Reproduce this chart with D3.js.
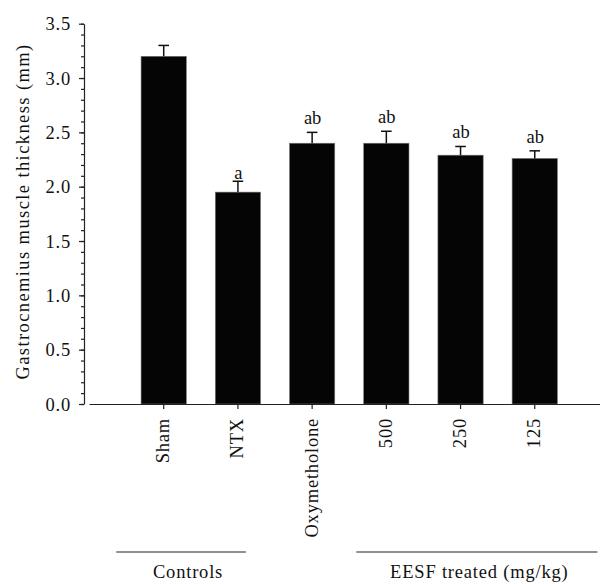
<!DOCTYPE html>
<html>
<head>
<meta charset="utf-8">
<script src="https://cdn.jsdelivr.net/npm/d3@7"></script>
<style>
  body { margin: 0; background: #fff; }
  text { font-family: "Liberation Serif", "Times New Roman", serif; fill: #111; letter-spacing: 0.8px; }
</style>
</head>
<body>
<script>
// groups and measured values (mm)
const groups = ['Sham', 'NTX', 'Oxymetholone', '500', '250', '125'];
const means = [3.20, 1.95, 2.40, 2.40, 2.29, 2.26];
const errors = [0.10, 0.10, 0.10, 0.11, 0.08, 0.07];
const letters = ['', 'a', 'ab', 'ab', 'ab', 'ab'];
const yTicks = [0.0, 0.5, 1.0, 1.5, 2.0, 2.5, 3.0, 3.5];
const bracketLabels = ['Controls', 'EESF treated (mg/kg)'];
const bracketMembers = [['Sham', 'NTX'], ['500', '250', '125']];

const fs = '18.5px';

const svg = d3.select('body').append('svg')
    .attr('width', 600)
    .attr('height', 584);

const x = d3.scaleBand()
    .domain(groups)
    .range([89, 600])
    .paddingInner(0.39)
    .paddingOuter(0.638)
    .align(0.55);

const y = d3.scaleLinear()
    .domain([0, 3.5])
    .range([404, 23.7]);

// bars
svg.selectAll('rect.bar')
    .data(groups)
    .enter()
    .append('rect')
    .attr('class', 'bar')
    .attr('x', d => x(d))
    .attr('width', x.bandwidth())
    .attr('y', (d, i) => y(means[i]))
    .attr('height', (d, i) => y(0) - y(means[i]))
    .attr('fill', '#050505')
    .attr('stroke', '#777')
    .attr('stroke-width', 0.6);

// error bars (upper only)
const err = svg.append('g').attr('stroke', '#111').attr('stroke-width', 1.5);
groups.forEach((g, i) => {
    const cx = x(g) + x.bandwidth() / 2;
    err.append('line')
        .attr('x1', cx).attr('x2', cx)
        .attr('y1', y(means[i])).attr('y2', y(means[i] + errors[i]));
    err.append('line')
        .attr('x1', cx - 5.3).attr('x2', cx + 5.3)
        .attr('y1', y(means[i] + errors[i])).attr('y2', y(means[i] + errors[i]));
});

// significance letters
svg.selectAll('text.sig')
    .data(letters)
    .enter()
    .append('text')
    .attr('class', 'sig')
    .attr('x', (d, i) => x(groups[i]) + x.bandwidth() / 2 + 0.5)
    .attr('y', (d, i) => y(means[i] + errors[i]) - (d === 'a' ? 2 : 8))
    .attr('text-anchor', 'middle')
    .style('font-size', fs)
    .style('letter-spacing', '0px')
    .text(d => d);

// y axis: major + minor ticks
const yAxis = svg.append('g')
    .attr('transform', 'translate(84,0)')
    .call(d3.axisLeft(y).tickValues(yTicks).tickFormat(d3.format('.1f'))
        .tickSize(5).tickSizeOuter(0).tickPadding(8));
svg.append('g')
    .attr('transform', 'translate(84,0)')
    .call(d3.axisLeft(y).tickValues(d3.range(0, 36).map(v => v / 10)).tickFormat('')
        .tickSize(3).tickSizeOuter(0))
    .select('.domain').remove();
svg.selectAll('.tick line, .domain').attr('stroke', '#222').attr('stroke-width', 1.2);
yAxis.selectAll('text').style('font-size', fs).attr('fill', '#111').attr('dy', '0.34em');

// x axis
const xAxis = svg.append('g')
    .attr('transform', 'translate(0,404)')
    .call(d3.axisBottom(x).tickSize(5).tickSizeOuter(0).tickPadding(0));
xAxis.select('.domain').attr('stroke', '#222').attr('stroke-width', 1.2);
xAxis.selectAll('.tick line').attr('stroke', '#222').attr('stroke-width', 1.2);
xAxis.selectAll('text')
    .style('font-size', fs)
    .attr('fill', '#111')
    .attr('text-anchor', 'end')
    .attr('transform', 'translate(0,14) rotate(-90)')
    .attr('x', 0)
    .attr('y', 0)
    .attr('dy', '0.3em');

// y label
svg.append('text')
    .attr('transform', 'translate(29,211.5) rotate(-90)')
    .attr('text-anchor', 'middle')
    .style('font-size', fs)
    .style('letter-spacing', '1.4px')
    .text('Gastrocnemius muscle thickness (mm)');

// group brackets under the axis
const padL = [47.5, 30];
const padR = [8, 62.7];
const textShift = [7, 2.4];
bracketMembers.forEach((m, i) => {
    const x0 = x(m[0]) + x.bandwidth() / 2 - padL[i];
    const x1 = x(m[m.length - 1]) + x.bandwidth() / 2 + padR[i];
    svg.append('line')
        .attr('x1', x0).attr('x2', x1)
        .attr('y1', 552).attr('y2', 552)
        .attr('stroke', '#222').attr('stroke-width', 1.2);
    svg.append('text')
        .attr('x', (x0 + x1) / 2 + textShift[i])
        .attr('y', 578)
        .attr('text-anchor', 'middle')
        .style('font-size', fs)
        .text(bracketLabels[i]);
});
</script>
</body>
</html>
